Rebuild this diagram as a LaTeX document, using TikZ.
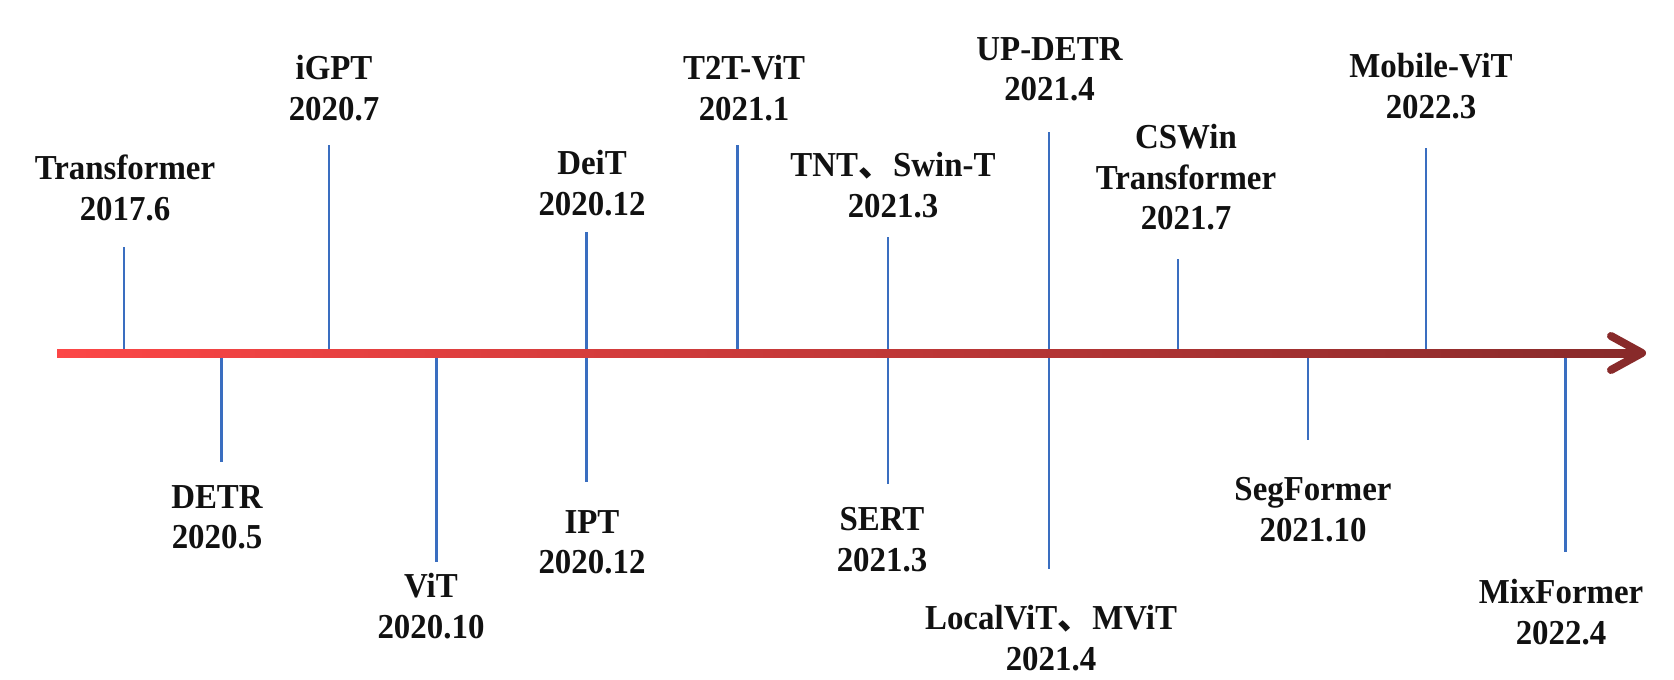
\documentclass[tikz,border=0pt]{standalone}
\usepackage{fontspec}
\setmainfont{Liberation Serif}[FakeStretch=0.94]
\newfontfamily\cjk{Noto Sans CJK SC}
\usetikzlibrary{calc}
\definecolor{axL}{RGB}{252,70,70}
\definecolor{axR}{RGB}{136,42,42}
\definecolor{tickblue}{RGB}{58,110,192}
\definecolor{txt}{RGB}{17,17,17}
\begin{document}
\begin{tikzpicture}[x=1pt,y=-1pt,
  tick/.style={draw=tickblue,line width=2.2pt},
  lbl/.style={font=\fontsize{35}{40.7}\selectfont\bfseries,align=center,inner sep=0pt,anchor=north,text=txt}]
\useasboundingbox[fill=white] (0,0) rectangle (1674,680);
% axis points and free ends of the ticks
\coordinate (a1) at (124.3,353);  \coordinate (e1) at (124.3,247);
\coordinate (a2) at (221.4,353);  \coordinate (e2) at (221.4,462);
\coordinate (a3) at (329,353);    \coordinate (e3) at (329,145);
\coordinate (a4) at (436.4,353);  \coordinate (e4) at (436.4,562);
\coordinate (a5) at (586.4,353);  \coordinate (e5) at (586.4,232);
                                  \coordinate (f5) at (586.4,482);
\coordinate (a6) at (737.5,353);  \coordinate (e6) at (737.5,145);
\coordinate (a7) at (887.9,353);  \coordinate (e7) at (887.9,237);
                                  \coordinate (f7) at (887.9,484);
\coordinate (a8) at (1049,353);   \coordinate (e8) at (1049,132);
                                  \coordinate (f8) at (1049,569);
\coordinate (a9) at (1178,353);   \coordinate (e9) at (1178,259);
\coordinate (a10) at (1307.6,353); \coordinate (e10) at (1307.6,440);
\coordinate (a11) at (1425.8,353); \coordinate (e11) at (1425.8,148);
\coordinate (a12) at (1565.4,353); \coordinate (e12) at (1565.4,552);
% ticks
\draw[tick] (a1) -- (e1);
\draw[tick] (a2) -- (e2);
\draw[tick] (a3) -- (e3);
\draw[tick] (a4) -- (e4);
\draw[tick] (a5) -- (e5);
\draw[tick] (a5) -- (f5);
\draw[tick] (a6) -- (e6);
\draw[tick] (a7) -- (e7);
\draw[tick] (a7) -- (f7);
\draw[tick] (a8) -- (e8);
\draw[tick] (a8) -- (f8);
\draw[tick] (a9) -- (e9);
\draw[tick] (a10) -- (e10);
\draw[tick] (a11) -- (e11);
\draw[tick] (a12) -- (e12);
% axis
\coordinate (s) at (57,353);
\coordinate (t) at (1642,353);
\coordinate (hA) at (1611,336);
\coordinate (hB) at (1611,370);
\shade[left color=axL,right color=axR] ($(s)+(0,-4)$) rectangle ($(t)+(-4,4)$);
\draw[axR,line width=8pt,line cap=round,line join=round] (hA) -- (t) -- (hB);
% labels
\node[lbl] (tf) at (125,155) {Transformer\\2017.6};
\node[lbl] (igpt) at (334,55) {iGPT\\2020.7};
\node[lbl] (deit) at (592,150) {DeiT\\2020.12};
\node[lbl] (t2t) at (744,55) {T2T-ViT\\2021.1};
\node[lbl] (tnt) at (893,152) {TNT{\cjk 、}Swin-T\\2021.3};
\node[lbl] (updetr) at (1049.5,37) {UP-DETR\\2021.4};
\node[lbl] (cswin) at (1186,124) {CSWin\\Transformer\\2021.7};
\node[lbl] (mobvit) at (1431,53) {Mobile-ViT\\2022.3};
\node[lbl] (detr) at (217,485) {DETR\\2020.5};
\node[lbl] (vit) at (431,573) {ViT\\2020.10};
\node[lbl] (ipt) at (592,510) {IPT\\2020.12};
\node[lbl] (sert) at (882,507) {SERT\\2021.3};
\node[lbl] (local) at (1051,605) {LocalViT{\cjk 、}MViT\\2021.4};
\node[lbl] (seg) at (1313,477) {SegFormer\\2021.10};
\node[lbl] (mix) at (1561,579) {MixFormer\\2022.4};
\end{tikzpicture}
\end{document}
